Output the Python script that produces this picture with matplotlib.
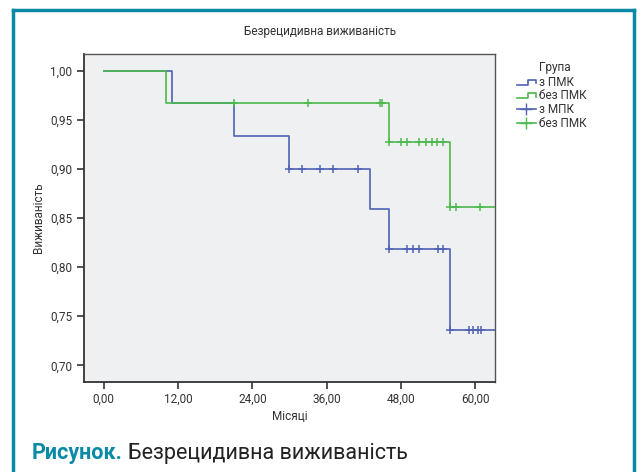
import matplotlib
matplotlib.use("Agg")
import matplotlib.pyplot as plt
from matplotlib.lines import Line2D
from matplotlib.legend_handler import HandlerBase

plt.rcParams['font.family'] = ['Liberation Sans Narrow', 'Roboto', 'DejaVu Sans']

# Kaplan-Meier steps: event times and survival after each event
with_pmk_times = [0, 11, 21, 30, 43, 46, 56]
with_pmk_surv = [1.0, 0.967, 0.933, 0.900, 0.859, 0.818, 0.736]
with_pmk_censored_t = [30, 32, 35, 37, 41, 46, 49, 50, 51, 54, 54.8, 56, 59, 59.7, 60.5, 60.9]

without_pmk_times = [0, 10, 46, 56]
without_pmk_surv = [1.0, 0.967, 0.927, 0.861]
without_pmk_censored_t = [21, 33, 44.7, 45, 46, 48, 49, 50.9, 52, 53, 53.8, 54.8, 56, 56.9, 60.8]

end_time = 64
x_ticks = [0, 12, 24, 36, 48, 60]
y_ticks = [0.70, 0.75, 0.80, 0.85, 0.90, 0.95, 1.00]

blue = '#4f62b4'
green = '#4cb94c'
teal = '#0b8aa6'
text_col = '#333333'


def surv_at(t, times, surv):
    s = surv[0]
    for ti, si in zip(times, surv):
        if t >= ti:
            s = si
    return s


def comma(v, decimals=2):
    return f"{v:.{decimals}f}".replace('.', ',')


fig = plt.figure(figsize=(6.41, 4.72), dpi=100)
fig.patch.set_facecolor('white')

ax = fig.add_axes([84 / 641, 1 - 382 / 472, (495 - 84) / 641, (382 - 54) / 472])
ax.set_facecolor('#eff0f2')

for times, surv, cens, col in [
    (with_pmk_times, with_pmk_surv, with_pmk_censored_t, blue),
    (without_pmk_times, without_pmk_surv, without_pmk_censored_t, green),
]:
    xs = list(times) + [end_time]
    ys = list(surv) + [surv[-1]]
    ax.step(xs, ys, where='post', color=col, lw=1.2, zorder=3)
    ax.plot(cens, [surv_at(t, times, surv) for t in cens], ls='none',
            marker='+', ms=6, mew=1.1, color=col, zorder=4)

ax.set_xlim(-3.2, 63.2)
ax.set_ylim(0.683, 1.017)
ax.set_xticks(x_ticks)
ax.set_xticklabels([comma(v) for v in x_ticks])
ax.set_yticks(y_ticks)
ax.set_yticklabels([comma(v) for v in y_ticks])
ax.tick_params(labelsize=8.5, length=5, width=1.2, color=text_col, labelcolor=text_col)
ax.tick_params(axis='x', pad=2.5)
for side in ['left', 'bottom']:
    ax.spines[side].set_linewidth(1.3)
    ax.spines[side].set_color(text_col)
for side in ['top', 'right']:
    ax.spines[side].set_linewidth(1.0)
    ax.spines[side].set_color('#555555')

ax.set_xlabel('Місяці', fontsize=8.5, color=text_col, labelpad=3)
ax.set_ylabel('Виживаність', fontsize=8.5, color=text_col, labelpad=4)
fig.text(320 / 641, 1 - 31 / 472, 'Безрецидивна виживаність', ha='center', va='center',
         fontsize=8.5, color=text_col)


class StepHandler(HandlerBase):
    def create_artists(self, legend, orig_handle, xdescent, ydescent, width,
                       height, fontsize, trans):
        x0, x1 = -xdescent, -xdescent + width
        y0, y1 = -ydescent + 0.15 * height, -ydescent + 0.75 * height
        xm = x0 + 0.6 * width
        line = Line2D([x0, xm, xm, x1, x1], [y0, y0, y1, y1, y0 + 0.2 * height],
                      color=orig_handle.get_color(), lw=1.2, transform=trans)
        return [line]


h_step_blue = Line2D([], [], color=blue)
h_step_green = Line2D([], [], color=green)
h_cens_blue = Line2D([0, 1], [0, 0], color=blue, marker='+', ms=8, lw=1.2)
h_cens_green = Line2D([0, 1], [0, 0], color=green, marker='+', ms=8, lw=1.2)

leg = fig.legend([h_step_blue, h_step_green, h_cens_blue, h_cens_green],
                 ['з ПМК', 'без ПМК', 'з МПК', 'без ПМК'],
                 loc='upper left', bbox_to_anchor=(511 / 641, 1 - 70 / 472),
                 frameon=False, fontsize=8.5,
                 handlelength=1.6, handletextpad=0.3, labelspacing=0.05,
                 borderpad=0, handler_map={h_step_blue: StepHandler(), h_step_green: StepHandler()})
for t in leg.get_texts():
    t.set_color(text_col)
fig.canvas.draw()
label_x = leg.get_texts()[0].get_window_extent().x0
fig.text(label_x / 641, 1 - 67 / 472, 'Група', fontsize=8.5, color=text_col,
         ha='left', va='center')

# Outer teal frame, open at the bottom
frame_lw = 2.5
fig.add_artist(Line2D([13 / 641, 13 / 641], [0, 1 - 10 / 472], color=teal, lw=frame_lw,
                      transform=fig.transFigure, solid_capstyle='projecting'))
fig.add_artist(Line2D([633.5 / 641, 633.5 / 641], [0, 1 - 10 / 472], color=teal, lw=frame_lw,
                      transform=fig.transFigure, solid_capstyle='projecting'))
fig.add_artist(Line2D([13 / 641, 633.5 / 641], [1 - 10 / 472, 1 - 10 / 472], color=teal,
                      lw=frame_lw, transform=fig.transFigure, solid_capstyle='projecting'))

cap_y = 1 - 453 / 472
t1 = fig.text(32 / 641, cap_y, 'Рисунок.', fontsize=15.5, fontweight='bold', color=teal,
              va='center', ha='left')
fig.canvas.draw()
bb = t1.get_window_extent()
fig.text(bb.x1 / 641 + 5 / 641, cap_y, 'Безрецидивна виживаність', fontsize=15.5,
         color='#222222', va='center', ha='left')

fig.savefig('out.png', dpi=100, facecolor='white')
